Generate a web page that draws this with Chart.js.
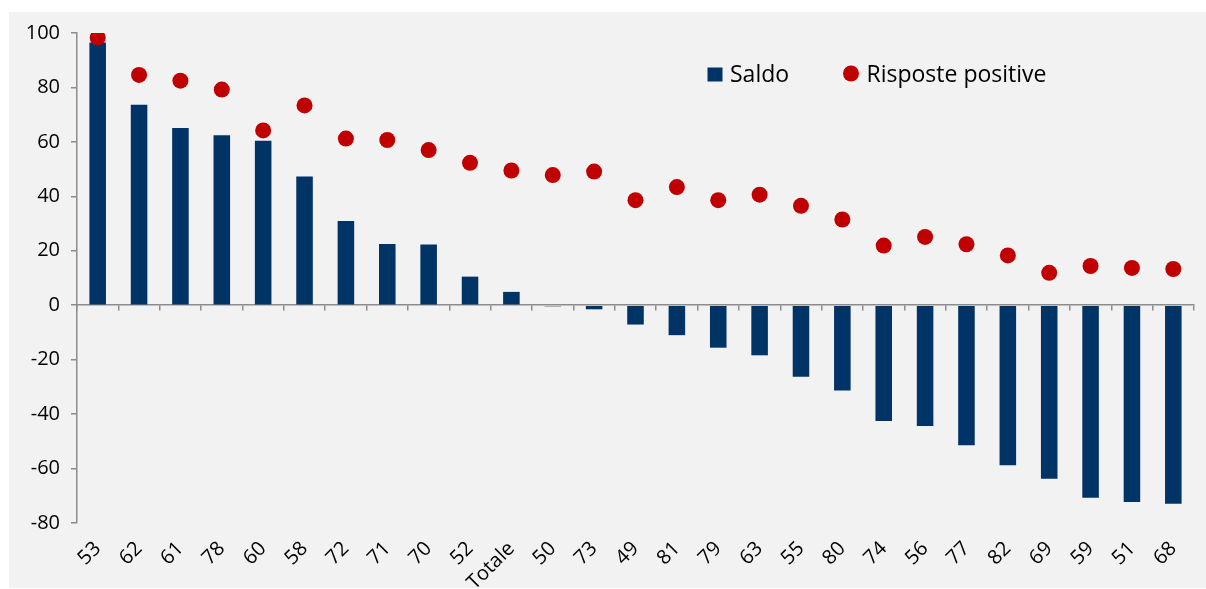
<!DOCTYPE html>
<html>
<head>
<meta charset="utf-8">
<script src="https://cdn.jsdelivr.net/npm/chart.js@4.4.1/dist/chart.umd.min.js"></script>
<style>
  html, body { margin: 0; padding: 0; background: #ffffff; }
  #wrap { width: 1206px; height: 589px; position: relative; }
</style>
</head>
<body>
<div id="wrap"><canvas id="c" width="1206" height="589"></canvas></div>
<script>
// ---- data ----
const categories = ['53','62','61','78','60','58','72','71','70','52','Totale','50','73','49','81','79','63','55','80','74','56','77','82','69','59','51','68'];
const saldo = [96.5,73.6,65.1,62.4,60.4,47.3,30.9,22.5,22.3,10.5,4.9,-0.4,-1.5,-7.1,-11.0,-15.6,-18.4,-26.3,-31.3,-42.5,-44.4,-51.4,-58.8,-63.7,-70.7,-72.3,-72.9];
const rispostePositive = [98.3,84.6,82.5,79.2,64.2,73.4,61.2,60.7,57.0,52.3,49.5,47.8,49.1,38.6,43.4,38.6,40.6,36.5,31.5,21.9,25.1,22.4,18.3,11.9,14.4,13.7,13.3];
const seriesNames = ['Saldo', 'Risposte positive'];
const yMin = -80, yMax = 100, yStep = 20;

// ---- styles ----
const FONT = 'Open Sans';
const BAR_COLOR = '#003366';
const DOT_COLOR = '#C00000';
const AXIS_COLOR = '#8c8c8c';
const TEXT_COLOR = '#000000';

const backgroundPlugin = {
  id: 'panelBg',
  beforeDraw(chart) {
    const ctx = chart.ctx;
    ctx.save();
    ctx.fillStyle = '#ffffff';
    ctx.fillRect(0, 0, chart.width, chart.height);
    ctx.fillStyle = '#F2F2F2';
    ctx.fillRect(9, 12, chart.width - 9, 576);
    ctx.restore();
  }
};

const legendPlugin = {
  id: 'customLegend',
  afterDraw(chart) {
    const ctx = chart.ctx;
    ctx.save();
    ctx.font = '23px "' + FONT + '"';
    ctx.textBaseline = 'alphabetic';
    ctx.fillStyle = BAR_COLOR;
    ctx.fillRect(707.5, 67.5, 15, 14);
    ctx.fillStyle = TEXT_COLOR;
    ctx.fillText(seriesNames[0], 730, 81.5);
    ctx.fillStyle = DOT_COLOR;
    ctx.beginPath();
    ctx.arc(851, 73.5, 8, 0, Math.PI * 2);
    ctx.fill();
    ctx.fillStyle = TEXT_COLOR;
    ctx.fillText(seriesNames[1], 866.5, 81.5);
    ctx.restore();
  }
};

new Chart(document.getElementById('c'), {
  type: 'bar',
  data: {
    labels: categories,
    datasets: [
      {
        type: 'bar',
        label: seriesNames[0],
        data: saldo,
        backgroundColor: BAR_COLOR,
        borderWidth: 0,
        barPercentage: 0.4,
        categoryPercentage: 1.0,
        xAxisID: 'x',
        yAxisID: 'y',
        order: 1
      },
      {
        type: 'line',
        label: seriesNames[1],
        data: rispostePositive,
        showLine: false,
        pointRadius: 8,
        pointHoverRadius: 8,
        pointBorderWidth: 0,
        pointBackgroundColor: DOT_COLOR,
        backgroundColor: DOT_COLOR,
        borderColor: DOT_COLOR,
        xAxisID: 'x',
        yAxisID: 'y',
        order: 0
      }
    ]
  },
  options: {
    responsive: false,
    animation: false,
    devicePixelRatio: 1,
    layout: { padding: { top: 33, right: 12, left: 0, bottom: 0 } },
    plugins: {
      legend: { display: false },
      tooltip: { enabled: false }
    },
    scales: {
      x: {
        type: 'category',
        position: 'bottom',
        offset: true,
        grid: { display: false },
        border: { display: false },
        ticks: {
          autoSkip: false,
          maxRotation: 45,
          minRotation: 45,
          padding: 6,
          color: TEXT_COLOR,
          font: { family: FONT, size: 20 }
        },
        afterFit(scale) { scale.height = 66; }
      },
      x2: {
        type: 'category',
        axis: 'x',
        labels: categories,
        position: { y: 0 },
        offset: true,
        grid: {
          display: true,
          offset: true,
          drawOnChartArea: false,
          drawTicks: true,
          tickLength: 5,
          color: AXIS_COLOR,
          lineWidth: 1.5
        },
        border: { display: true, color: AXIS_COLOR, width: 1.5 },
        ticks: { display: false }
      },
      y: {
        min: yMin,
        max: yMax,
        ticks: {
          stepSize: yStep,
          padding: 11,
          color: TEXT_COLOR,
          font: { family: FONT, size: 20 }
        },
        grid: {
          drawOnChartArea: false,
          drawTicks: true,
          tickLength: 6,
          color: AXIS_COLOR,
          lineWidth: 1.5
        },
        border: { display: true, color: AXIS_COLOR, width: 1.5 },
        afterFit(scale) { scale.width = 77; }
      }
    }
  },
  plugins: [backgroundPlugin, legendPlugin]
});
</script>
</body>
</html>
